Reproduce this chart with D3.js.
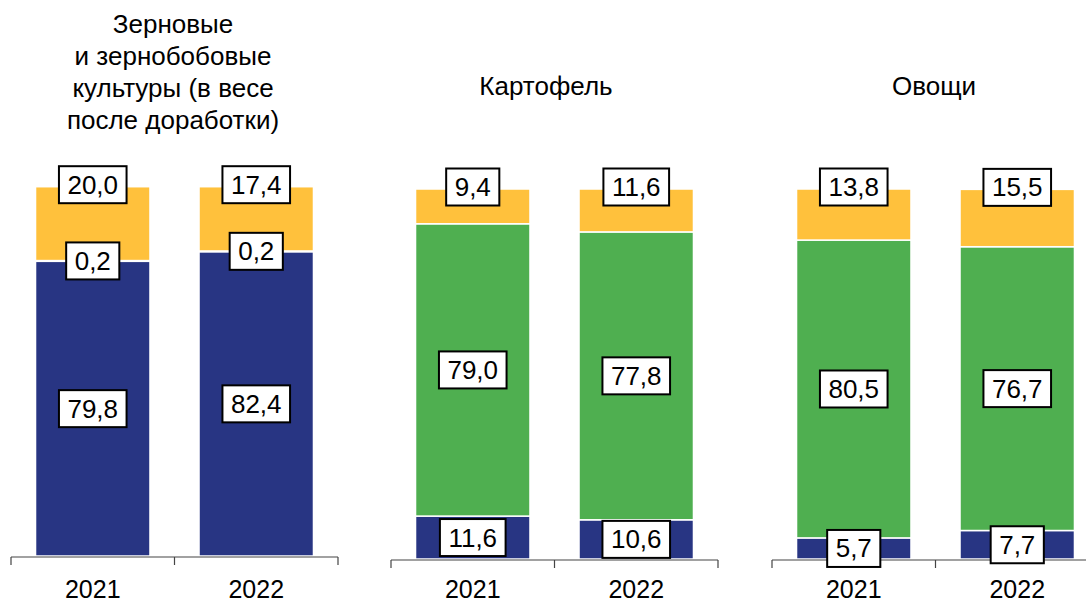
<!DOCTYPE html>
<html><head><meta charset="utf-8">
<script src="https://cdn.jsdelivr.net/npm/d3@7"></script>
<style>body{margin:0;background:#fff}svg{display:block}text{font-family:"Liberation Sans",Arial,sans-serif;fill:#000}</style>
</head><body><svg id="c" width="1086" height="603"></svg>
<script>
const titleLines = [["Зерновые","и зернобобовые","культуры (в весе","после доработки)"],["Картофель"],["Овощи"]];
const years = ["2021","2022"];
const blueValues = [[79.8,82.4],[11.6,10.6],[5.7,7.7]];
const greenValues = [[0.2,0.2],[79.0,77.8],[80.5,76.7]];
const yellowValues = [[20.0,17.4],[9.4,11.6],[13.8,15.5]];
const colors = {blue:"#283583", green:"#4FAF50", yellow:"#FFC13C"};

const layout = [
  {x0:11, bottom:556, top:186.7, titleX:173, titleY:33},
  {x0:391, bottom:559, top:189, titleX:546, titleY:95},
  {x0:772, bottom:559, top:189, titleX:934, titleY:95}
];
const panelW = 327;
const svg = d3.select("#c");
const fmt = v => d3.format(".1f")(v).replace(".", ",");

function label(g, cx, cy, v){
  const t = g.append("text").attr("x",cx).attr("y",cy).attr("text-anchor","middle")
    .attr("dominant-baseline","central").style("font-size","26px").text(fmt(v));
  const w = t.node().getComputedTextLength()+17;
  g.insert("rect", () => t.node()).attr("x",cx-w/2).attr("y",cy-18.5).attr("width",w).attr("height",37)
    .attr("fill","#fff").attr("stroke","#000").attr("stroke-width",2);
}

layout.forEach((L,i)=>{
  const g = svg.append("g");
  const x = d3.scaleBand().domain(years).range([L.x0, L.x0+panelW]).paddingInner(0.3).paddingOuter(0.15);
  const y = d3.scaleLinear().domain([0,100]).range([L.bottom, L.top]);
  const stacks = years.map((yr,j)=>{
    const b=blueValues[i][j], gr=greenValues[i][j], ye=yellowValues[i][j];
    return [
      {key:"blue", y0:0, y1:b},
      {key:"green", y0:b, y1:b+gr},
      {key:"yellow", y0:b+gr, y1:b+gr+ye}
    ].map(d=>({...d, yr, v:d.y1-d.y0}));
  });
  stacks.forEach(st=>{
    g.selectAll(null).data(st).enter().append("rect")
      .attr("x",d=>x(d.yr)).attr("width",x.bandwidth())
      .attr("y",d=>y(d.y1)).attr("height",d=>y(d.y0)-y(d.y1))
      .attr("fill",d=>colors[d.key]).attr("stroke","#fff").attr("stroke-width",1.5);
  });
  // axis
  const axisY = L.bottom+1;
  const ag = g.append("g").attr("transform",`translate(0,${axisY})`);
  ag.append("line").attr("x1",L.x0).attr("x2",L.x0+panelW).attr("stroke","#444").attr("stroke-width",1.2);
  const edges = [L.x0, L.x0+panelW/2, L.x0+panelW];
  ag.selectAll(null).data(edges).enter().append("line").attr("x1",d=>d).attr("x2",d=>d).attr("y1",0).attr("y2",8)
    .attr("stroke","#444").attr("stroke-width",1.2);
  ag.selectAll(null).data(years).enter().append("text")
    .attr("x",d=>x(d)+x.bandwidth()/2).attr("y",598-axisY).attr("text-anchor","middle").style("font-size","25px").text(d=>d);
  // title
  const tt = g.append("text").attr("text-anchor","middle").style("font-size","26px");
  titleLines[i].forEach((ln,k)=>tt.append("tspan").attr("x",L.titleX).attr("y",L.titleY+k*32).text(ln));
  // labels
  stacks.forEach(st=>{
    const cx = x(st[0].yr)+x.bandwidth()/2;
    st.forEach(d=>{
      let cy;
      if(d.key==="yellow") cy = y(d.y1)-2;
      else cy = (y(d.y0)+y(d.y1))/2;
      label(g,cx,cy,d.v);
    });
  });
});
</script></body></html>
